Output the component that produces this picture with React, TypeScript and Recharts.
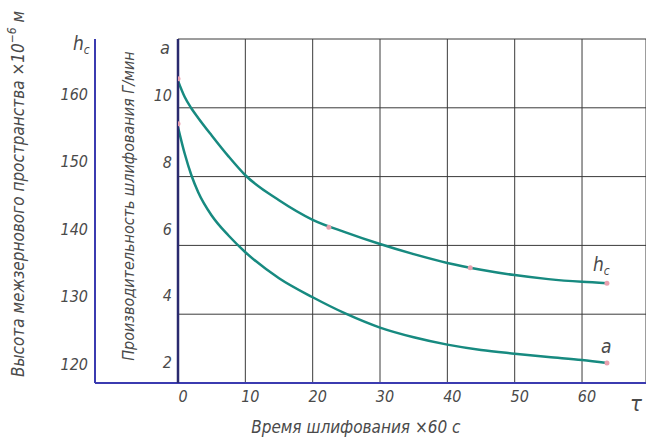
import React from 'react';
import { ComposedChart, Line, Scatter, XAxis, YAxis, CartesianGrid, ReferenceLine } from 'recharts';

const timeMin = [0, 1, 2, 3, 5, 7.5, 10, 15, 20, 25, 30, 35, 40, 45, 50, 55, 60, 63.7];
const hcValues = [162.0, 159.6, 157.9, 156.5, 153.9, 150.8, 148.0, 144.3, 141.4, 139.5, 137.8, 136.3, 135.0, 134.0, 133.2, 132.6, 132.2, 132.0];
const aValues = [9.05, 8.25, 7.6, 7.1, 6.4, 5.8, 5.3, 4.52, 3.95, 3.45, 3.04, 2.75, 2.53, 2.37, 2.26, 2.16, 2.07, 1.98];
const xTicks = [0, 10, 20, 30, 40, 50, 60];
const hcTicks = [120, 130, 140, 150, 160];
const aTicks = [2, 4, 6, 8, 10];
const gridRows = [1, 2, 3, 4, 5];
const hcMarks = [{ t: 0, hc: 162.3 }, { t: 22.4, hc: 140.3 }, { t: 43.4, hc: 134.3 }, { t: 63.7, hc: 132.0 }];
const aMarks = [{ t: 0, a: 9.15 }, { t: 63.7, a: 1.98 }];
const outerAxisT = -12.33;

const data = timeMin.map((t, i) => ({ t, hc: hcValues[i], a: aValues[i] }));

const FONT = "'Liberation Sans Narrow', 'DejaVu Sans Condensed', sans-serif";
const TXT = '#4a4a4a';
const tickStyle = { fontFamily: FONT, fontStyle: 'italic', fontSize: 16, fill: TXT };

const dotShape = (p: any) => <circle cx={p.cx} cy={p.cy} r={2.5} fill="#e9a0ae" />;

const hcAxisLabel = (props: any) => {
  const vb = props.viewBox;
  const right = vb.x + vb.width;
  return (
    <g style={{ fontFamily: FONT, fontStyle: 'italic' }} fill={TXT}>
      <text x={right - 22} y={50} fontSize={19}>
        h<tspan dy={4} fontSize={12}>c</tspan>
      </text>
      <text
        x={18}
        y={194}
        fontSize={17}
        textAnchor="middle"
        dominantBaseline="central"
        transform={`rotate(-90, 18, 194)`}
      >
        Высота межзернового пространства ×10<tspan dy={-6} fontSize={12}>−6</tspan>
        <tspan dy={6}> м</tspan>
      </text>
    </g>
  );
};

const aAxisLabel = (props: any) => {
  const vb = props.viewBox;
  const right = vb.x + vb.width;
  return (
    <g style={{ fontFamily: FONT, fontStyle: 'italic' }} fill={TXT}>
      <text x={right - 18} y={54} fontSize={18}>a</text>
      <text
        x={128}
        y={206}
        fontSize={16}
        textAnchor="middle"
        dominantBaseline="central"
        transform={`rotate(-90, 128, 206)`}
      >
        Производительность шлифования Г/мин
      </text>
    </g>
  );
};

const xAxisLabel = (props: any) => {
  const vb = props.viewBox;
  return (
    <g style={{ fontFamily: FONT, fontStyle: 'italic' }} fill={TXT}>
      <text x={vb.x + vb.width - 10} y={vb.y + 28} fontSize={22} textAnchor="middle">τ</text>
      <text x={vb.x + vb.width * 0.38} y={vb.y + 50} fontSize={17} textAnchor="middle">
        Время шлифования ×60 с
      </text>
    </g>
  );
};

const hcEndLabel = (p: any) =>
  p.index === timeMin.length - 1 ? (
    <text x={p.x - 14} y={p.y - 12} style={{ fontFamily: FONT, fontStyle: 'italic' }} fontSize={19} fill={TXT}>
      h<tspan dy={4} fontSize={12}>c</tspan>
    </text>
  ) : null;

const aEndLabel = (p: any) =>
  p.index === timeMin.length - 1 ? (
    <text x={p.x - 6} y={p.y - 10} style={{ fontFamily: FONT, fontStyle: 'italic' }} fontSize={19} fill={TXT}>
      a
    </text>
  ) : null;

export default function App() {
  return (
    <div style={{ position: 'absolute', left: 0, top: 0, width: 646, height: 444, background: '#fff' }}>
      <ComposedChart width={646} height={444} data={data} margin={{ top: 39, right: 0, bottom: 0, left: 0 }}>
        <CartesianGrid xAxisId="x" yAxisId="grid" horizontal={false} stroke="#3a3a3a" strokeWidth={1} />
        <XAxis
          xAxisId="x"
          dataKey="t"
          type="number"
          domain={[0, 69.5]}
          ticks={xTicks}
          allowDataOverflow
          height={61}
          tickSize={0}
          tickMargin={8}
          tick={{ ...tickStyle, dx: 5 }}
          axisLine={{ stroke: '#3b3bb0', strokeWidth: 2 }}
          tickLine={false}
          label={xAxisLabel}
        />
        <YAxis
          yAxisId="a"
          dataKey="a"
          type="number"
          domain={[1.38, 11.69]}
          ticks={aTicks}
          allowDataOverflow
          width={83}
          tickSize={0}
          tickMargin={6}
          tick={tickStyle}
          tickLine={false}
          axisLine={{ stroke: '#2a2a6e', strokeWidth: 2.5 }}
          label={aAxisLabel}
        />
        <YAxis
          yAxisId="hc"
          dataKey="hc"
          type="number"
          domain={[117.2, 168.2]}
          ticks={hcTicks}
          allowDataOverflow
          width={95}
          tickSize={0}
          tickMargin={7}
          tick={tickStyle}
          tickLine={false}
          axisLine={{ stroke: '#3b3bb0', strokeWidth: 2 }}
          label={hcAxisLabel}
        />
        <YAxis
          yAxisId="grid"
          orientation="right"
          type="number"
          domain={[0, 5]}
          allowDataOverflow
          ticks={gridRows}
          width={0}
          tick={false}
          tickLine={false}
          axisLine={false}
        />
        {gridRows.map((r) => (
          <ReferenceLine key={r} xAxisId="x" yAxisId="grid" y={r} stroke="#3a3a3a" strokeWidth={1} />
        ))}
        <ReferenceLine
          xAxisId="x"
          yAxisId="grid"
          segment={[{ x: outerAxisT, y: 0 }, { x: 0, y: 0 }]}
          stroke="#3b3bb0"
          strokeWidth={2}
          ifOverflow="visible"
        />
        <Line
          xAxisId="x"
          yAxisId="hc"
          dataKey="hc"
          type="monotone"
          stroke="#178a80"
          strokeWidth={2.5}
          dot={false}
          isAnimationActive={false}
          label={hcEndLabel}
        />
        <Line
          xAxisId="x"
          yAxisId="a"
          dataKey="a"
          type="monotone"
          stroke="#178a80"
          strokeWidth={2.5}
          dot={false}
          isAnimationActive={false}
          label={aEndLabel}
        />
        <Scatter xAxisId="x" yAxisId="hc" data={hcMarks} dataKey="hc" shape={dotShape} isAnimationActive={false} />
        <Scatter xAxisId="x" yAxisId="a" data={aMarks} dataKey="a" shape={dotShape} isAnimationActive={false} />
      </ComposedChart>
    </div>
  );
}
